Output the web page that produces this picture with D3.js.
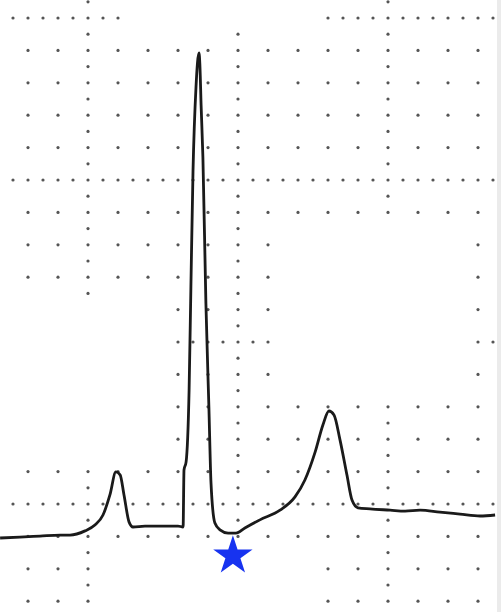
<!DOCTYPE html>
<html>
<head>
<meta charset="utf-8">
<script src="https://cdn.jsdelivr.net/npm/d3@7"></script>
<style>
  html, body { margin: 0; padding: 0; background: #fff; }
  svg { display: block; }
</style>
</head>
<body>
<script>
// values in small-box units (x: 0.04 s per box, y: 0.1 mV per box)
var traceX = [-0.93, -0.27, 0.4, 1.07, 1.4, 1.9, 2.23, 2.5, 2.73, 2.93, 3.07, 3.2, 3.37, 3.5, 3.9, 4.4, 5.0, 5.17,
  5.2, 5.27, 5.37, 5.43, 5.5, 5.6, 5.7, 5.73, 5.77, 5.83, 5.93, 6.03, 6.1, 6.23, 6.4, 6.67, 6.93, 7.23, 7.73, 8.4,
  8.9, 9.23, 9.57, 9.83, 10.03, 10.2, 10.4, 10.63, 10.8, 11.0, 11.4, 12.07, 12.57, 13.07, 13.73, 14.4, 15.07, 15.57];
var traceY = [-1.05, -1.02, -0.99, -0.96, -0.96, -0.83, -0.65, -0.34, 0.28, 0.99, 0.9, 0.28, -0.56, -0.71, -0.68, -0.68, -0.68, -0.71,
  1.05, 1.3, 3.52, 6.7, 10.25, 12.87, 13.92, 13.55, 12.31, 10.71, 6.2, 2.99, 0.65, -0.59, -0.8, -0.9, -0.9, -0.74, -0.49, -0.19,
  0.22, 0.74, 1.6, 2.44, 2.87, 2.75, 1.98, 0.9, 0.12, -0.12, -0.15, -0.19, -0.22, -0.19, -0.25, -0.31, -0.37, -0.34];

// marker under the S wave
var starX = [6.83];
var starY = [-1.6];

// grid: small boxes, every 5th line dense
var gridCols = d3.range(-1, 17);
var gridRows = d3.range(-4, 16);
var blanks = [
  [3.1, 9.7, 14.6, 99],
  [-9, 4.75, 1.35, 6.3],
  [8.4, 14.7, 3.4, 8.6],
  [2.4, 9.6, -99, -1.5]
];

var W = 501, H = 612;
var x = d3.scaleLinear().domain([0, 1]).range([28, 58]);
var y = d3.scaleLinear().domain([0, 1]).range([504, 471.6]);

var svg = d3.select("body").append("svg").attr("width", W).attr("height", H);

function blank(i, j) {
  return blanks.some(function(b) { return i >= b[0] && i <= b[1] && j >= b[2] && j <= b[3]; });
}

var dots = [];
gridCols.forEach(function(i) {
  gridRows.forEach(function(j) {
    dots.push([i, j]);
    if (i % 5 == 2 || i % 5 == -3) dots.push([i, j + 0.5]);
    if (j % 5 == 0) dots.push([i + 0.5, j]);
  });
});
dots = dots.filter(function(d) { return !blank(d[0], d[1]); });

svg.append("g").selectAll("circle").data(dots).enter().append("circle")
  .attr("cx", function(d) { return x(d[0]); })
  .attr("cy", function(d) { return y(d[1]); })
  .attr("r", 1.6)
  .style("fill", "#555");

svg.append("rect").attr("x", 497).attr("y", 0).attr("width", 4).attr("height", H).style("fill", "#ebebeb");

var line = d3.line()
  .x(function(d) { return x(traceX[d]); })
  .y(function(d) { return y(traceY[d]); })
  .curve(d3.curveMonotoneX);

svg.append("path")
  .attr("d", line(d3.range(traceX.length)))
  .style("fill", "none")
  .style("stroke", "#1a1a1a")
  .style("stroke-width", 2.8)
  .style("stroke-linejoin", "round");

svg.selectAll(".star").data(starX).enter().append("path")
  .attr("class", "star")
  .attr("transform", function(d, k) { return "translate(" + x(d) + "," + y(starY[k]) + ")"; })
  .attr("d", d3.symbol(d3.symbolStar, 480))
  .style("fill", "#1733f0");
</script>
</body>
</html>
